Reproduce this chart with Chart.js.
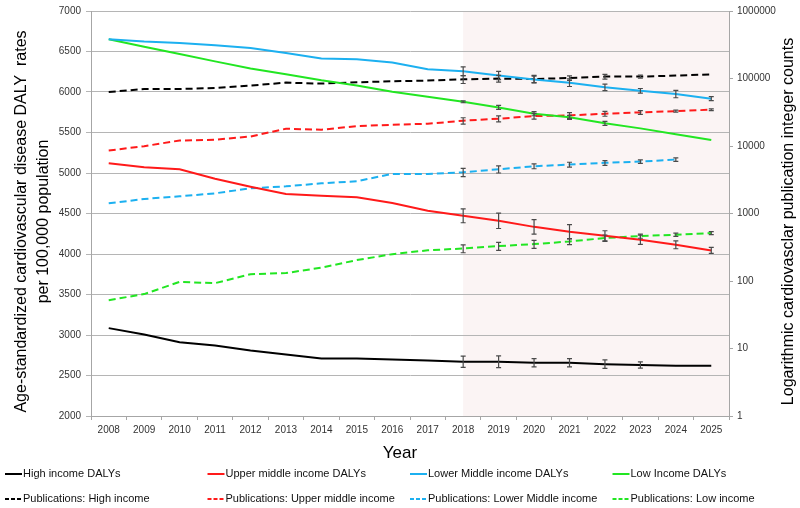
<!DOCTYPE html>
<html>
<head>
<meta charset="utf-8">
<script src="https://cdn.jsdelivr.net/npm/chart.js@4"></script>
<style>
  html, body { margin: 0; padding: 0; background: #fff; }
  #wrap { width: 800px; height: 508px; position: relative; }
</style>
</head>
<body>
<div id="wrap"><canvas id="chart" width="800" height="508"></canvas></div>
<script>
// Categories and tick values
const years = ["2008", "2009", "2010", "2011", "2012", "2013", "2014", "2015", "2016",
               "2017", "2018", "2019", "2020", "2021", "2022", "2023", "2024", "2025"];
const forecastFrom = "2018";
const rightTicks = [1, 10, 100, 1000, 10000, 100000, 1000000];

// DALY rates (left axis)
const highDaly  = [3085, 3005, 2910, 2870, 2810, 2760, 2710, 2710, 2698, 2685, 2670, 2670, 2657, 2657, 2640, 2630, 2620, 2620];
const upperDaly = [5120, 5070, 5045, 4930, 4830, 4740, 4720, 4700, 4630, 4535, 4472, 4410, 4335, 4275, 4225, 4176, 4114, 4044];
const lowerDaly = [6650, 6622, 6605, 6578, 6543, 6482, 6415, 6404, 6365, 6281, 6256, 6204, 6155, 6115, 6058, 6014, 5974, 5918];
const lowDaly   = [6650, 6558, 6468, 6378, 6290, 6220, 6145, 6080, 6003, 5940, 5879, 5810, 5732, 5687, 5613, 5551, 5478, 5408];

// Error bars on DALY rates
const highDalyErr  = [null, null, null, null, null, null, null, null, null, null, 70, 72, 51, 51, 53, 39, null, null];
const upperDalyErr = [null, null, null, null, null, null, null, null, null, null, 86, 95, 90, 88, 62, 57, 49, 37];
const lowerDalyErr = [null, null, null, null, null, null, null, null, null, null, 55, 50, 40, 47, 40, 29, 45, 25];
const lowDalyErr   = [null, null, null, null, null, null, null, null, null, null, 12, 25, 25, 25, 25, null, null, null];

// Publication counts (right log axis)
const pubHigh  = [63000, 69800, 69800, 72300, 78400, 86900, 84000, 87900, 90900, 93100, 97300, 99600, 98400, 101700, 106700, 106700, 110400, 115400];
const pubUpper = [8570, 9930, 12070, 12370, 13840, 18020, 17400, 19700, 20650, 21380, 23670, 25360, 27740, 28400, 30080, 31470, 32900, 34500];
const pubLower = [1413, 1641, 1795, 1990, 2360, 2530, 2800, 3000, 3860, 3860, 4080, 4520, 5010, 5310, 5630, 5880, 6300, null];
const pubLow   = [52, 64, 97, 93, 126, 131, 158, 204, 250, 285, 303, 329, 352, 385, 433, 463, 485, 513];

// Error bars on publication counts
const pubHighErr  = [null, null, null, null, null, null, null, null, null, null, 13000, 11500, 12500, 8000, 8700, 5600, null, null];
const pubUpperErr = [null, null, null, null, null, null, null, null, null, null, 2560, 2540, 2770, 2750, 2470, 2000, 1150, 1000];
const pubLowerErr = [null, null, null, null, null, null, null, null, null, null, 570, 540, 410, 435, 460, 350, 380, null];
const pubLowErr   = [null, null, null, null, null, null, null, null, null, null, 41, 44, 48, 38, 47, 33, 26, 27];

const FONT = "'Liberation Sans', Arial, sans-serif";
const BLACK = "#000000", RED = "#ff1a1a", BLUE = "#1cb0f0", GREEN = "#22e622";
const DASH = [7, 4];

function line(label, data, color, axis, dashed, errors) {
    return {
        label: label,
        data: data,
        errors: errors,
        borderColor: color,
        backgroundColor: color,
        borderWidth: 2,
        borderDash: dashed ? DASH : [],
        pointRadius: 0,
        tension: 0,
        yAxisID: axis
    };
}

// Light pink band from the first forecast year to the right edge
const shadePlugin = {
    id: "shade",
    beforeDraw(chart) {
        const { ctx, chartArea, scales } = chart;
        const x0 = scales.x.getPixelForValue(years.indexOf(forecastFrom));
        ctx.save();
        ctx.fillStyle = "#fbf4f4";
        ctx.fillRect(x0, chartArea.top, chartArea.right - x0, chartArea.bottom - chartArea.top);
        ctx.restore();
    }
};

// Error bars with caps
const errorBarPlugin = {
    id: "errorBars",
    afterDatasetsDraw(chart) {
        const { ctx, scales } = chart;
        ctx.save();
        ctx.strokeStyle = "#4a4a4a";
        ctx.lineWidth = 1.2;
        chart.data.datasets.forEach(ds => {
            const yScale = scales[ds.yAxisID];
            ds.errors.forEach((e, i) => {
                if (e == null || ds.data[i] == null) return;
                const x = scales.x.getPixelForValue(i);
                const yTop = yScale.getPixelForValue(ds.data[i] + e);
                const yBot = yScale.getPixelForValue(ds.data[i] - e);
                ctx.beginPath();
                ctx.moveTo(x, yTop); ctx.lineTo(x, yBot);
                ctx.moveTo(x - 2.5, yTop); ctx.lineTo(x + 2.5, yTop);
                ctx.moveTo(x - 2.5, yBot); ctx.lineTo(x + 2.5, yBot);
                ctx.stroke();
            });
        });
        ctx.restore();
    }
};

// Axis titles and the four-column legend
const titlesPlugin = {
    id: "titles",
    afterDraw(chart) {
        const { ctx, chartArea } = chart;
        const midY = (chartArea.top + chartArea.bottom) / 2;
        ctx.save();
        ctx.fillStyle = "#000";
        ctx.textAlign = "center";
        ctx.textBaseline = "middle";
        ctx.font = "16px " + FONT;

        ctx.save();
        ctx.translate(22, midY + 8);
        ctx.rotate(-Math.PI / 2);
        ctx.fillText("Age-standardized cardiovascular disease DALY  rates", 0, 0);
        ctx.fillText("per 100,000 population", 0, 22);
        ctx.restore();

        ctx.save();
        ctx.translate(789, midY + 8);
        ctx.rotate(-Math.PI / 2);
        ctx.fillText("Logarithmic cardiovasclar publication integer counts", 0, 0);
        ctx.restore();

        ctx.font = "17px " + FONT;
        ctx.fillText("Year", 400, 453);

        ctx.font = "11px " + FONT;
        ctx.textAlign = "left";
        chart.data.datasets.forEach((ds, i) => {
            const col = i % 4, row = Math.floor(i / 4);
            const x = 5 + col * 202.5;
            const y = 474 + row * 25;
            ctx.strokeStyle = ds.borderColor;
            ctx.lineWidth = 2;
            ctx.setLineDash(ds.borderDash.length ? [4, 2] : []);
            ctx.beginPath();
            ctx.moveTo(x, y); ctx.lineTo(x + 17, y);
            ctx.stroke();
            ctx.setLineDash([]);
            ctx.fillStyle = "#111";
            ctx.fillText(ds.label, x + 18, y);
        });
        ctx.restore();
    }
};

document.addEventListener("DOMContentLoaded", function () {
    const ctx = document.getElementById("chart").getContext("2d");
    new Chart(ctx, {
        type: "line",
        data: {
            labels: years,
            datasets: [
                line("High income DALYs", highDaly, BLACK, "y", false, highDalyErr),
                line("Upper middle income DALYs", upperDaly, RED, "y", false, upperDalyErr),
                line("Lower Middle income DALYs", lowerDaly, BLUE, "y", false, lowerDalyErr),
                line("Low Income DALYs", lowDaly, GREEN, "y", false, lowDalyErr),
                line("Publications: High income", pubHigh, BLACK, "y1", true, pubHighErr),
                line("Publications: Upper middle income", pubUpper, RED, "y1", true, pubUpperErr),
                line("Publications: Lower Middle income", pubLower, BLUE, "y1", true, pubLowerErr),
                line("Publications: Low income", pubLow, GREEN, "y1", true, pubLowErr)
            ]
        },
        options: {
            responsive: false,
            animation: false,
            spanGaps: false,
            layout: { padding: { top: 11, left: 0, right: 0, bottom: 0 } },
            plugins: {
                legend: { display: false },
                tooltip: { enabled: false }
            },
            scales: {
                x: {
                    offset: true,
                    grid: { offset: true, drawOnChartArea: false, tickLength: 4, color: "#a6a6a6" },
                    border: { color: "#a6a6a6" },
                    ticks: { color: "#333", font: { family: FONT, size: 10 }, padding: 4, maxRotation: 0 },
                    afterFit(s) { s.height = 92; }
                },
                y: {
                    position: "left",
                    min: 2000,
                    max: 7000,
                    grid: { color: "#b5b5b5", tickLength: 5 },
                    border: { color: "#a6a6a6" },
                    ticks: {
                        stepSize: 500,
                        color: "#333",
                        font: { family: FONT, size: 10 },
                        padding: 5,
                        callback: v => String(v)
                    },
                    afterFit(s) { s.width = 91; }
                },
                y1: {
                    type: "logarithmic",
                    position: "right",
                    min: 1,
                    max: 1000000,
                    grid: { drawOnChartArea: false, tickLength: 4, color: "#a6a6a6" },
                    border: { color: "#a6a6a6" },
                    afterBuildTicks(s) { s.ticks = rightTicks.map(v => ({ value: v })); },
                    ticks: {
                        color: "#333",
                        font: { family: FONT, size: 10 },
                        padding: 4,
                        callback: v => String(v)
                    },
                    afterFit(s) { s.width = 71; }
                }
            }
        },
        plugins: [shadePlugin, errorBarPlugin, titlesPlugin]
    });
});
</script>
</body>
</html>
